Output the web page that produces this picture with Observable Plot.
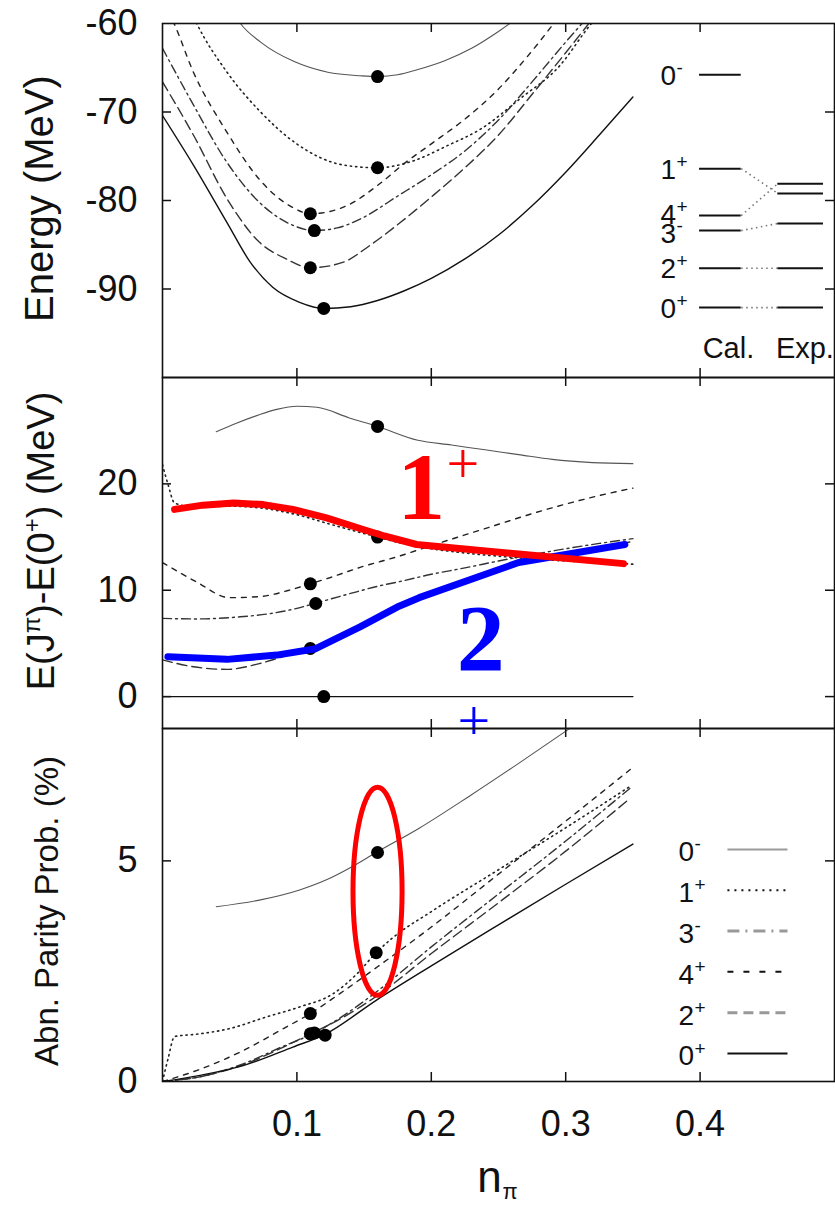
<!DOCTYPE html>
<html><head><meta charset="utf-8">
<script src="https://cdn.jsdelivr.net/npm/d3@7"></script>
<script src="https://cdn.jsdelivr.net/npm/@observablehq/plot@0.6"></script>
<style>
html,body{margin:0;padding:0;background:#fff;overflow:hidden;}
#chart{width:835px;}
#chart svg{display:block;}
</style></head><body><div id="chart"></div>
<script>
// ---------- DATA ----------
const seriesKeys = ["0-", "1+", "4+", "3-", "2+", "0+"];
const seriesJ = ["0", "1", "4", "3", "2", "0"];
const seriesSign = ["-", "+", "+", "-", "+", "+"];

// Top panel: Energy (MeV) vs n_pi
const top0m = [[0.045,-56.5],[0.058,-60.0],[0.073,-62.1],[0.098,-64.3],[0.123,-65.5],[0.147,-65.9],[0.16,-66.0],[0.175,-65.8],[0.19,-65.2],[0.21,-64.2],[0.23,-62.8],[0.25,-60.9],[0.27,-58.7]];
const top1p = [[0,-48.6],[0.01,-54.5],[0.0255,-60.0],[0.048,-65.5],[0.073,-70.0],[0.098,-73.4],[0.135,-76.0],[0.16,-76.3],[0.187,-75.5],[0.212,-73.8],[0.237,-71.9],[0.266,-68.5],[0.296,-64.7],[0.316,-60.6],[0.33,-58.0]];
const top4p = [[0,-57.5],[0.008,-59.8],[0.023,-65.5],[0.048,-72.3],[0.072,-77.6],[0.097,-80.8],[0.11,-81.5],[0.137,-80.6],[0.16,-78.3],[0.18,-75.8],[0.2,-73.6],[0.225,-70.8],[0.25,-67.4],[0.27,-64.0],[0.29,-60.2],[0.31,-56.0]];
const top3m = [[0,-62.8],[0.023,-69.2],[0.048,-75.7],[0.072,-80.2],[0.097,-82.8],[0.113,-83.4],[0.13,-83.1],[0.147,-82.1],[0.176,-79.4],[0.2,-77.1],[0.225,-74.4],[0.25,-70.9],[0.275,-66.6],[0.3,-62.1],[0.325,-57.8]];
const top2p = [[0,-66.6],[0.023,-72.6],[0.048,-79.8],[0.072,-84.7],[0.092,-86.6],[0.11,-87.6],[0.134,-87.0],[0.155,-85.0],[0.176,-82.6],[0.2,-79.6],[0.225,-76.3],[0.25,-72.6],[0.275,-68.0],[0.3,-63.3],[0.325,-58.5]];
const top0p = [[0,-70.4],[0.023,-76.0],[0.048,-82.5],[0.065,-86.9],[0.082,-89.8],[0.102,-91.5],[0.12,-92.2],[0.14,-92.0],[0.16,-91.3],[0.18,-90.2],[0.2,-88.8],[0.225,-86.6],[0.25,-83.9],[0.275,-80.6],[0.3,-76.8],[0.325,-72.6],[0.35,-68.3]];
const topDotN = [0.16, 0.16, 0.11, 0.113, 0.11, 0.12];
const topDotE = [-66.0, -76.3, -81.5, -83.4, -87.6, -92.2];

// Level scheme (Cal. / Exp.)
const calLevel = [-65.8, -76.4, -81.7, -83.4, -87.65, -92.1];
const expLevel = [null, -79.2, -78.1, -82.6, -87.65, -92.1];

// Middle panel: E(J)-E(0+) (MeV)
const mid0m = [[0.04,24.9],[0.055,25.7],[0.072,26.5],[0.085,27.0],[0.1,27.3],[0.115,27.2],[0.139,26.2],[0.16,25.4],[0.19,24.1],[0.215,23.65],[0.24,23.2],[0.265,22.75],[0.29,22.3],[0.32,22.0],[0.35,21.9]];
const mid1p = [[0,21.8],[0.004,20.0],[0.009,18.2],[0.025,17.8],[0.05,17.9],[0.075,17.7],[0.1,17.1],[0.125,16.2],[0.145,15.5],[0.16,15.0],[0.175,14.5],[0.2,13.9],[0.225,13.5],[0.25,13.2],[0.275,12.95],[0.3,12.75],[0.325,12.6],[0.35,12.45]];
const mid4p = [[0,12.6],[0.025,10.8],[0.05,9.3],[0.072,9.4],[0.097,10.1],[0.11,10.6],[0.125,11.2],[0.147,12.15],[0.176,13.2],[0.2,14.2],[0.225,15.2],[0.25,16.2],[0.275,17.2],[0.3,18.1],[0.325,18.9],[0.35,19.6]];
const mid3m = [[0,7.35],[0.025,7.3],[0.058,7.5],[0.08,7.8],[0.1,8.3],[0.113,8.75],[0.14,9.7],[0.161,10.4],[0.176,10.8],[0.2,11.5],[0.225,12.1],[0.25,12.75],[0.275,13.35],[0.3,13.9],[0.325,14.4],[0.35,14.85]];
const mid2p = [[0,3.45],[0.023,2.8],[0.048,2.56],[0.072,3.1],[0.097,4.05],[0.11,4.52],[0.13,5.6],[0.15,6.9],[0.175,8.4],[0.2,9.8],[0.225,10.9],[0.25,11.9],[0.275,12.7],[0.3,13.3],[0.325,13.9],[0.35,14.6]];
const mid0p = [[0,0],[0.35,0]];
const midDotN = [0.16, 0.16, 0.11, 0.114, 0.11, 0.12];
const midDotE = [25.4, 15.0, 10.6, 8.75, 4.52, 0];
const red1p = [[0.009,17.6],[0.03,18.0],[0.053,18.2],[0.075,18.05],[0.097,17.6],[0.122,16.8],[0.147,15.8],[0.165,15.1],[0.189,14.3],[0.265,13.4],[0.343,12.5]];
const blue2p = [[0.004,3.75],[0.048,3.5],[0.085,3.9],[0.114,4.5],[0.147,6.55],[0.176,8.5],[0.191,9.3],[0.265,12.6],[0.344,14.3]];

// Bottom panel: Abn. Parity Prob. (%)
const bot0m = [[0.04,3.96],[0.072,4.11],[0.102,4.34],[0.122,4.57],[0.14,4.85],[0.159,5.19],[0.191,5.74],[0.228,6.46],[0.265,7.21],[0.302,7.98],[0.32,8.35]];
const bot1p = [[0,0],[0.004,0.5],[0.009,1.02],[0.025,1.07],[0.05,1.2],[0.077,1.46],[0.102,1.69],[0.127,1.99],[0.145,2.45],[0.159,2.92],[0.171,3.25],[0.2,3.85],[0.25,4.8],[0.3,5.75],[0.348,6.69]];
const bot4p = [[0,0],[0.03,0.3],[0.06,0.7],[0.09,1.2],[0.11,1.54],[0.13,1.95],[0.16,2.6],[0.2,3.5],[0.25,4.7],[0.3,5.9],[0.348,7.07]];
const bot3m = [[0,0],[0.03,0.12],[0.06,0.4],[0.09,0.8],[0.113,1.1],[0.13,1.4],[0.16,2.05],[0.2,3.05],[0.25,4.25],[0.3,5.45],[0.348,6.65]];
const bot2p = [[0,0],[0.03,0.12],[0.06,0.38],[0.09,0.78],[0.11,1.08],[0.13,1.38],[0.16,1.95],[0.2,2.9],[0.25,4.05],[0.3,5.22],[0.348,6.42]];
const bot0p = [[0,0],[0.028,0.14],[0.06,0.36],[0.097,0.78],[0.121,1.07],[0.159,1.84],[0.2,2.62],[0.25,3.55],[0.3,4.47],[0.35,5.38]];
const botDotN = [0.16, 0.159, 0.11, 0.113, 0.11, 0.121];
const botDotP = [5.19, 2.92, 1.54, 1.1, 1.08, 1.05];
const botLegendOrder = ["0-", "1+", "3-", "4+", "2+", "0+"];

// Ticks
const xTicks = [0.1, 0.2, 0.3, 0.4];
const topYTicks = [-60, -70, -80, -90];
const midYTicks = [0, 10, 20];
const botYTicks = [0, 5];

// ---------- LAYOUT / STYLE ----------
const W = 835, ML = 162, MR = 1, FW = W - ML - MR;
const INK = "#111";
const FONT = "Liberation Sans, Arial, Helvetica, sans-serif";
const SERIF = "Liberation Serif, Times New Roman, serif";
const lineStyle = {
  "0-": {stroke: "#555", strokeWidth: 1.1},
  "1+": {stroke: "#222", strokeWidth: 1.6, strokeDasharray: "1.3,4"},
  "4+": {stroke: "#222", strokeWidth: 1.4, strokeDasharray: "5,6"},
  "3-": {stroke: "#333", strokeWidth: 1.4, strokeDasharray: "9,4,2,4"},
  "2+": {stroke: "#333", strokeWidth: 1.4, strokeDasharray: "10,5"},
  "0+": {stroke: "#111", strokeWidth: 1.4}
};
const legendStyle = {
  "0-": {stroke: "#9a9a9a", strokeWidth: 2},
  "1+": {stroke: "#111", strokeWidth: 2, strokeDasharray: "2,5"},
  "3-": {stroke: "#999", strokeWidth: 3, strokeDasharray: "12,6,2,6"},
  "4+": {stroke: "#111", strokeWidth: 2, strokeDasharray: "6,10"},
  "2+": {stroke: "#999", strokeWidth: 3, strokeDasharray: "10,6"},
  "0+": {stroke: "#111", strokeWidth: 2}
};

function curves(series) {
  return seriesKeys.map(k => Plot.line(series[k], {
    x: d => d[0], y: d => d[1], curve: "monotone-x", clip: true, ...lineStyle[k]
  }));
}
function dots(ns, vs) {
  return Plot.dot(seriesKeys.map((k, i) => ({n: ns[i], v: vs[i]})), {x: "n", y: "v", r: 6.5, fill: "#000"});
}
function ticks(yT, fh) {
  const s = {stroke: INK, strokeWidth: 1.5};
  return [
    Plot.ruleX(xTicks, {insetTop: fh - 9, ...s}),
    Plot.ruleX(xTicks, {insetBottom: fh - 9, ...s}),
    Plot.ruleY(yT, {insetRight: FW - 9, ...s}),
    Plot.ruleY(yT, {insetLeft: FW - 9, ...s}),
    Plot.frame({stroke: INK, strokeWidth: 1.6})
  ];
}
function yAxis(yT) {
  return Plot.axisY({ticks: yT, tickSize: 0, tickPadding: 25, tickFormat: d => String(d), label: null, fontSize: 36, fill: INK});
}
const svgStyle = {overflow: "visible", fontFamily: FONT, color: INK, background: "transparent"};

const ellipseSymbol = {
  draw(ctx, size) {
    const ry = Math.sqrt(size / Math.PI), rx = ry * 0.236, k = 0.5523;
    ctx.moveTo(rx, 0);
    ctx.bezierCurveTo(rx, ry * k, rx * k, ry, 0, ry);
    ctx.bezierCurveTo(-rx * k, ry, -rx, ry * k, -rx, 0);
    ctx.bezierCurveTo(-rx, -ry * k, -rx * k, -ry, 0, -ry);
    ctx.bezierCurveTo(rx * k, -ry, rx, -ry * k, rx, 0);
    ctx.closePath();
  }
};

// ---------- TOP PANEL ----------
const topSeries = {"0-": top0m, "1+": top1p, "4+": top4p, "3-": top3m, "2+": top2p, "0+": top0p};
const levels = seriesKeys.map((k, i) => ({k, j: seriesJ[i], sign: seriesSign[i], cal: calLevel[i], exp: expLevel[i]}));
const levelsExp = levels.filter(d => d.exp != null);
const lblPlain = levels.filter(d => d.k !== "4+" && d.k !== "3-");
const lbl4 = levels.filter(d => d.k === "4+");
const lbl3 = levels.filter(d => d.k === "3-");
function levelLabels(data, dyOff) {
  return [
    Plot.text(data, {x: () => 0.3705, y: "cal", text: "j", textAnchor: "start", dy: dyOff, fontSize: 28, fill: INK}),
    Plot.text(data, {x: () => 0.3705, y: "cal", text: "sign", textAnchor: "start", dx: 16, dy: dyOff - 8, fontSize: 19, fill: INK})
  ];
}
const H1 = 377, MT1 = 23;
const topPlot = Plot.plot({
  width: W, height: H1, marginLeft: ML, marginRight: MR, marginTop: MT1, marginBottom: 0,
  style: svgStyle,
  x: {domain: [0, 0.5], axis: null},
  y: {domain: [-100, -60]},
  marks: [
    ...curves(topSeries),
    dots(topDotN, topDotE),
    Plot.ruleY(levels, {y: "cal", x1: () => 0.3996, x2: () => 0.4306, stroke: INK, strokeWidth: 2}),
    Plot.ruleY(levelsExp, {y: "exp", x1: () => 0.4578, x2: () => 0.4918, stroke: INK, strokeWidth: 2}),
    Plot.link(levelsExp, {x1: () => 0.4306, y1: "cal", x2: () => 0.4578, y2: "exp", stroke: "#777", strokeWidth: 1.6, strokeDasharray: "1.5,3.5"}),
    ...levelLabels(lblPlain, 1),
    ...levelLabels(lbl4, -1),
    ...levelLabels(lbl3, 3),
    Plot.text(["Cal."], {x: () => 0.4019, y: () => -97.85, textAnchor: "start", lineAnchor: "bottom", fontSize: 29, fill: INK}),
    Plot.text(["Exp."], {x: () => 0.4564, y: () => -97.85, textAnchor: "start", lineAnchor: "bottom", fontSize: 29, fill: INK}),
    Plot.text(["Energy (MeV)"], {frameAnchor: "left", textAnchor: "middle", lineAnchor: "middle", rotate: -90, dx: -122, dy: -2, fontSize: 40, fill: INK}),
    yAxis(topYTicks),
    ...ticks([-70, -80, -90], H1 - MT1)
  ]
});

// ---------- MIDDLE PANEL ----------
const midSeries = {"0-": mid0m, "1+": mid1p, "4+": mid4p, "3-": mid3m, "2+": mid2p, "0+": mid0p};
const H2 = 351;
const MID_LABEL = "E(Jπ)-E(0+) (MeV)";
const midPlot = Plot.plot({
  width: W, height: H2, marginLeft: ML, marginRight: MR, marginTop: 0, marginBottom: 0,
  style: svgStyle,
  x: {domain: [0, 0.5], axis: null},
  y: {domain: [-3, 30]},
  marks: [
    ...curves(midSeries),
    dots(midDotN, midDotE),
    Plot.line(blue2p, {x: d => d[0], y: d => d[1], stroke: "#0000ff", strokeWidth: 7, strokeLinejoin: "round"}),
    Plot.line(red1p, {x: d => d[0], y: d => d[1], stroke: "#ff0000", strokeWidth: 7, strokeLinejoin: "round"}),
    Plot.text(["1"], {x: () => 0.1925, y: () => 16.74, lineAnchor: "bottom", fontFamily: SERIF, fontWeight: "bold", fontSize: 96, fill: "#ff0000"}),
    Plot.text(["+"], {x: () => 0.2234, y: () => 20.07, lineAnchor: "bottom", fontFamily: SERIF, fontSize: 58, fill: "#ff0000"}),
    Plot.text(["2"], {x: () => 0.2368, y: () => 2.45, lineAnchor: "bottom", fontFamily: SERIF, fontWeight: "bold", fontSize: 96, fill: "#0000ff"}),
    Plot.text(["+"], {x: () => 0.2316, y: () => -4.09, lineAnchor: "bottom", fontFamily: SERIF, fontSize: 58, fill: "#0000ff"}),
    Plot.text([MID_LABEL], {frameAnchor: "left", textAnchor: "middle", lineAnchor: "middle", rotate: -90, dx: -121, dy: -12, fontSize: 38, fill: INK}),
    yAxis(midYTicks),
    ...ticks(midYTicks, H2)
  ]
});
midPlot.querySelectorAll("text").forEach(t => {
  if (t.textContent === MID_LABEL) {
    t.textContent = "";
    const parts = [["E(J", 0, null], ["π", -14, 24], [")-E(0", 14, null], ["+", -14, 24], [") (MeV)", 14, null]];
    for (const [s, dy, fs] of parts) {
      const ts = document.createElementNS("http://www.w3.org/2000/svg", "tspan");
      if (dy) ts.setAttribute("dy", dy);
      if (fs) ts.setAttribute("font-size", fs);
      ts.textContent = s;
      t.appendChild(ts);
    }
  }
});

// ---------- BOTTOM PANEL ----------
const botSeries = {"0-": bot0m, "1+": bot1p, "4+": bot4p, "3-": bot3m, "2+": bot2p, "0+": bot0p};
const H3 = 477, MB3 = 124;
const legendRows = botLegendOrder.map((k, i) => ({k, j: k[0], sign: k[1], row: i}));
const legendY = d => 5.26 - d.row * 0.925;
const botPlot = Plot.plot({
  width: W, height: H3, marginLeft: ML, marginRight: MR, marginTop: 0, marginBottom: MB3,
  style: svgStyle,
  x: {domain: [0, 0.5]},
  y: {domain: [0, 8]},
  marks: [
    ...curves(botSeries),
    dots(botDotN, botDotP),
    Plot.dot([{n: 0.160, p: 4.31}], {x: "n", y: "p", r: 104, symbol: ellipseSymbol, stroke: "#ff0000", strokeWidth: 5, fill: "none"}),
    ...legendRows.map(d => Plot.ruleY([d], {y: legendY, x1: () => 0.4207, x2: () => 0.4654, ...legendStyle[d.k]})),
    Plot.text(legendRows, {x: () => 0.384, y: legendY, text: "j", textAnchor: "start", dy: 3, fontSize: 28, fill: INK}),
    Plot.text(legendRows, {x: () => 0.384, y: legendY, text: "sign", textAnchor: "start", dx: 16, dy: -5, fontSize: 19, fill: INK}),
    Plot.text(["Abn. Parity Prob. (%)"], {frameAnchor: "left", textAnchor: "middle", lineAnchor: "middle", rotate: -90, dx: -115, dy: 6, fontSize: 33, fill: INK}),
    Plot.text(["n"], {frameAnchor: "bottom", textAnchor: "middle", lineAnchor: "bottom", dx: -9, dy: 110, fontSize: 44, fill: INK}),
    Plot.text(["π"], {frameAnchor: "bottom", lineAnchor: "bottom", textAnchor: "start", dx: 4, dy: 117, fontSize: 22, fill: INK}),
    yAxis(botYTicks),
    Plot.axisX({ticks: xTicks, tickSize: 0, tickPadding: 29, tickFormat: d => String(d), label: null, fontSize: 36, fill: INK}),
    ...ticks([5], H3 - MB3)
  ]
});

const chart = document.getElementById("chart");
chart.appendChild(topPlot);
chart.appendChild(midPlot);
chart.appendChild(botPlot);
</script>
</body></html>
